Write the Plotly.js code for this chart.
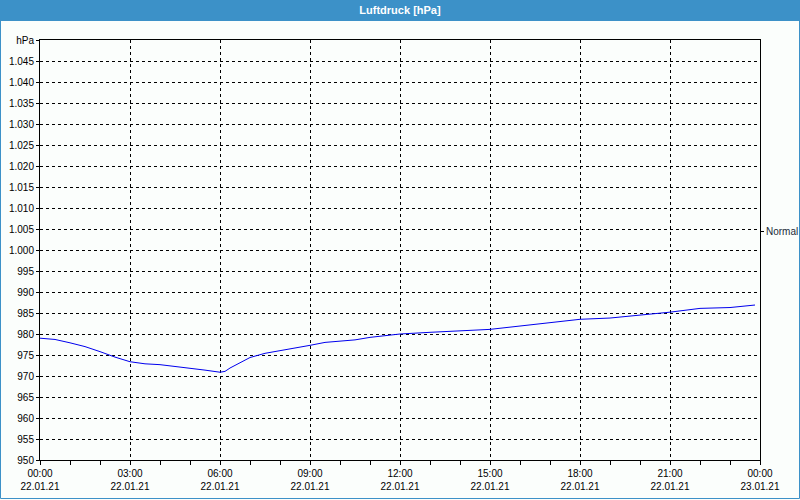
<!DOCTYPE html>
<html>
<head>
<meta charset="utf-8">
<script src="https://cdn.plot.ly/plotly-3.0.1.min.js"></script>
<style>html,body{margin:0;padding:0;background:#fbfefc;}#chart{width:800px;height:500px;}</style>
</head>
<body>
<div id="chart"></div>
<script>
// Data
const times = ["2021-01-22 00:00","2021-01-22 00:30","2021-01-22 01:00","2021-01-22 01:30","2021-01-22 02:00","2021-01-22 02:30",
  "2021-01-22 03:00","2021-01-22 03:30","2021-01-22 04:00","2021-01-22 04:30","2021-01-22 05:00","2021-01-22 05:30",
  "2021-01-22 06:00","2021-01-22 06:10","2021-01-22 06:20","2021-01-22 06:40","2021-01-22 07:00","2021-01-22 07:30",
  "2021-01-22 08:00","2021-01-22 08:30","2021-01-22 09:00","2021-01-22 09:30","2021-01-22 10:00","2021-01-22 10:30",
  "2021-01-22 11:00","2021-01-22 11:30","2021-01-22 12:00","2021-01-22 13:00","2021-01-22 14:00","2021-01-22 15:00",
  "2021-01-22 16:00","2021-01-22 17:00","2021-01-22 18:00","2021-01-22 19:00","2021-01-22 20:00","2021-01-22 21:00",
  "2021-01-22 22:00","2021-01-22 23:00","2021-01-22 23:50"];
const pressure = [979.0,978.7,977.9,977.0,975.8,974.5,
  973.4,972.9,972.7,972.3,971.8,971.4,
  970.9,971.1,971.9,973.2,974.4,975.4,
  976.0,976.7,977.3,978.0,978.3,978.6,
  979.2,979.6,980.0,980.4,980.8,981.1,
  981.9,982.7,983.5,983.8,984.5,985.2,
  986.1,986.3,986.9];
const xTickVals = ["2021-01-22 00:00","2021-01-22 03:00","2021-01-22 06:00","2021-01-22 09:00","2021-01-22 12:00",
  "2021-01-22 15:00","2021-01-22 18:00","2021-01-22 21:00","2021-01-23 00:00"];
const xTickText = ["00:00<br>22.01.21","03:00<br>22.01.21","06:00<br>22.01.21","09:00<br>22.01.21","12:00<br>22.01.21",
  "15:00<br>22.01.21","18:00<br>22.01.21","21:00<br>22.01.21","00:00<br>23.01.21"];
const yTickVals = [950,955,960,965,970,975,980,985,990,995,1000,1005,1010,1015,1020,1025,1030,1035,1040,1045,1050];
const yTickText = ["950","955","960","965","970","975","980","985","990","995","1.000","1.005","1.010","1.015","1.020",
  "1.025","1.030","1.035","1.040","1.045","hPa"];
const normalValue = [1004.5];
const normalLabel = ["Normal"];
const chartTitle = "Luftdruck [hPa]";

const W = 800, H = 500, L = 40, R = 40, T = 40, B = 40;
const pw = W - L - R, ph = H - T - B;
const px = x => (x - L) / pw;
const py = y => (H - B - y) / ph;
const font = "Liberation Sans, Arial, sans-serif";
const blue = "#3c91c8";
const gridDash = "3px,3px";

const traces = [
  {x: times, y: pressure, type: "scatter", mode: "lines", line: {color: "#0000ee", width: 1}, hoverinfo: "skip", xaxis: "x", yaxis: "y"},
  {x: [times[0]], y: normalValue, type: "scatter", mode: "markers", marker: {opacity: 0}, hoverinfo: "skip", xaxis: "x", yaxis: "y2", showlegend: false}
];

const layout = {
  width: W, height: H,
  margin: {l: L, r: R, t: T, b: B, pad: 0},
  paper_bgcolor: "#fbfefc",
  plot_bgcolor: "#fbfefc",
  showlegend: false,
  title: {text: "<b>" + chartTitle + "</b>", font: {family: font, size: 11, color: "#ffffff"},
          x: 0.5, xanchor: "center", y: 1 - 10.5 / H, yanchor: "middle", yref: "container"},
  font: {family: font, size: 10, color: "#000000"},
  xaxis: {
    type: "date",
    range: ["2021-01-22 00:00", "2021-01-23 00:00"],
    tickmode: "array", tickvals: xTickVals, ticktext: xTickText,
    ticks: "outside", ticklen: 4, tickcolor: "#000", tickwidth: 1,
    minor: {dtick: 3600000, ticks: "outside", ticklen: 4, tickcolor: "#000", showgrid: false},
    showgrid: true, gridcolor: "#000", griddash: gridDash, gridwidth: 1,
    showline: true, linecolor: "#000", linewidth: 1, mirror: true,
    zeroline: false, fixedrange: true,
    tickfont: {family: font, size: 10, color: "#000"}
  },
  yaxis: {
    range: [950, 1050],
    tickmode: "array", tickvals: yTickVals, ticktext: yTickText,
    ticks: "outside", ticklen: 3, tickcolor: "#000",
    showgrid: true, gridcolor: "#000", griddash: gridDash, gridwidth: 1,
    showline: true, linecolor: "#000", linewidth: 1, mirror: true,
    zeroline: false, fixedrange: true,
    tickfont: {family: font, size: 10, color: "#000"}
  },
  yaxis2: {
    overlaying: "y", side: "right", range: [950, 1050],
    tickmode: "array", tickvals: normalValue, ticktext: normalLabel,
    ticks: "outside", ticklen: 3, tickcolor: "#000",
    showgrid: false, zeroline: false, showline: false, fixedrange: true,
    tickfont: {family: font, size: 10, color: "#1a2a3a"}
  },
  shapes: [
    {type: "rect", xref: "paper", yref: "paper", x0: px(0), x1: px(W), y0: py(21), y1: py(0),
     fillcolor: blue, line: {width: 0}, layer: "below"},
    {type: "rect", xref: "paper", yref: "paper", x0: px(0.5), x1: px(W - 0.5), y0: py(H - 1.5), y1: py(0.5),
     fillcolor: "rgba(0,0,0,0)", line: {color: blue, width: 1}, layer: "below"}
  ]
};

Plotly.newPlot("chart", traces, layout, {staticPlot: true, displayModeBar: false});
</script>
</body>
</html>
